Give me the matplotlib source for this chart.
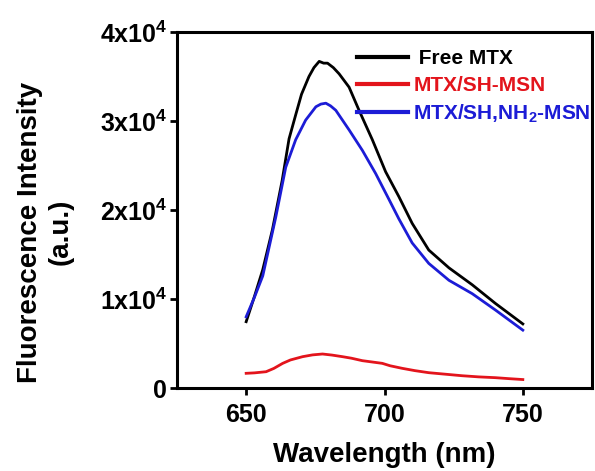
import matplotlib
matplotlib.use('Agg')
import matplotlib.pyplot as plt
from matplotlib.ticker import FixedLocator, FuncFormatter

plt.rcParams.update({
    'font.family': ['Liberation Sans', 'DejaVu Sans'],
    'font.weight': 'bold',
    'mathtext.default': 'regular',
})

# Free MTX
wl_free = [650, 653, 656, 659.5, 663, 665.5, 668, 670, 672.7, 674.5, 676.4, 678,
           679.4, 681.5, 683.6, 687.2, 690.8, 695.6, 700.4, 705.2, 710, 716,
           723.3, 731.7, 740.1, 750]
i_free = [7450, 10300, 13300, 17800, 23300, 28000, 30800, 33000, 35000, 36000, 36700, 36500,
          36500, 36000, 35300, 33800, 31200, 27900, 24300, 21500, 18500, 15500,
          13500, 11600, 9500, 7200]

# MTX/SH-MSN
wl_sh = [650, 653, 657.2, 660, 663.2, 666, 670.4, 674, 677.6, 681, 684.8, 688,
         692, 699.2, 702, 706.4, 711, 716, 722, 728, 734, 740.1, 745, 750]
i_sh = [1650, 1700, 1830, 2200, 2770, 3150, 3520, 3720, 3820, 3700, 3520, 3350,
        3070, 2770, 2500, 2210, 1950, 1720, 1550, 1380, 1250, 1160, 1050, 950]

# MTX/SH,NH2-MSN
wl_nh = [650, 653, 656, 660.7, 664.3, 667.9, 671.5, 675.2, 677, 678.8, 680.5, 682.4,
         687.2, 692, 696.8, 701.6, 705.2, 710, 716, 723.3, 731.7, 740.1, 750]
i_nh = [8000, 10200, 12600, 19200, 24800, 27900, 30100, 31600, 31900, 32000, 31700, 31200,
        29000, 26700, 24100, 21200, 19000, 16300, 14000, 12100, 10600, 8760, 6500]

labels = [' Free MTX', 'MTX/SH-MSN', 'MTX/SH,NH$_2$-MSN']
colors = ['black', '#e3141c', '#1c1cd6']

fig = plt.figure(figsize=(5.95, 4.71), dpi=100)
ax = fig.add_axes([177 / 595, 1 - 388 / 471, (592 - 177) / 595, (388 - 32) / 471])

ax.plot(wl_free, i_free, color=colors[0], lw=2.0, label=labels[0])
ax.plot(wl_sh, i_sh, color=colors[1], lw=2.0, label=labels[1])
ax.plot(wl_nh, i_nh, color=colors[2], lw=2.0, label=labels[2])

ax.set_xlim(625, 775)
ax.set_ylim(0, 40000)
ax.xaxis.set_major_locator(FixedLocator([650, 700, 750]))
ax.yaxis.set_major_locator(FixedLocator([0, 10000, 20000, 30000, 40000]))


def yfmt(v, pos):
    if v == 0:
        return '0'
    return '%dx10$^{4}$' % round(v / 10000)


ax.yaxis.set_major_formatter(FuncFormatter(yfmt))
ax.tick_params(direction='out', width=2, length=5, labelsize=18)
ax.tick_params(axis='x', pad=6)
ax.tick_params(axis='y', pad=2)
for s in ax.spines.values():
    s.set_linewidth(2.2)

ax.set_xlabel('Wavelength (nm)', fontsize=20, fontweight='bold')
ax.set_ylabel('Fluorescence Intensity\n(a.u.)', fontsize=20, fontweight='bold')
ax.xaxis.set_label_coords(0.499, -0.151)
ax.yaxis.set_label_coords(-0.25, 0.438)

leg = ax.legend(loc='upper left', bbox_to_anchor=(0.434, 0.952), frameon=False,
                fontsize=15, handlelength=2.45, handletextpad=0.24, labelspacing=0.37,
                borderpad=0, borderaxespad=0)
for txt, c in zip(leg.get_texts(), colors):
    txt.set_color(c)
    txt.set_fontweight('bold')
for ln in leg.get_lines():
    ln.set_linewidth(3)

fig.savefig('out.png', dpi=100)
